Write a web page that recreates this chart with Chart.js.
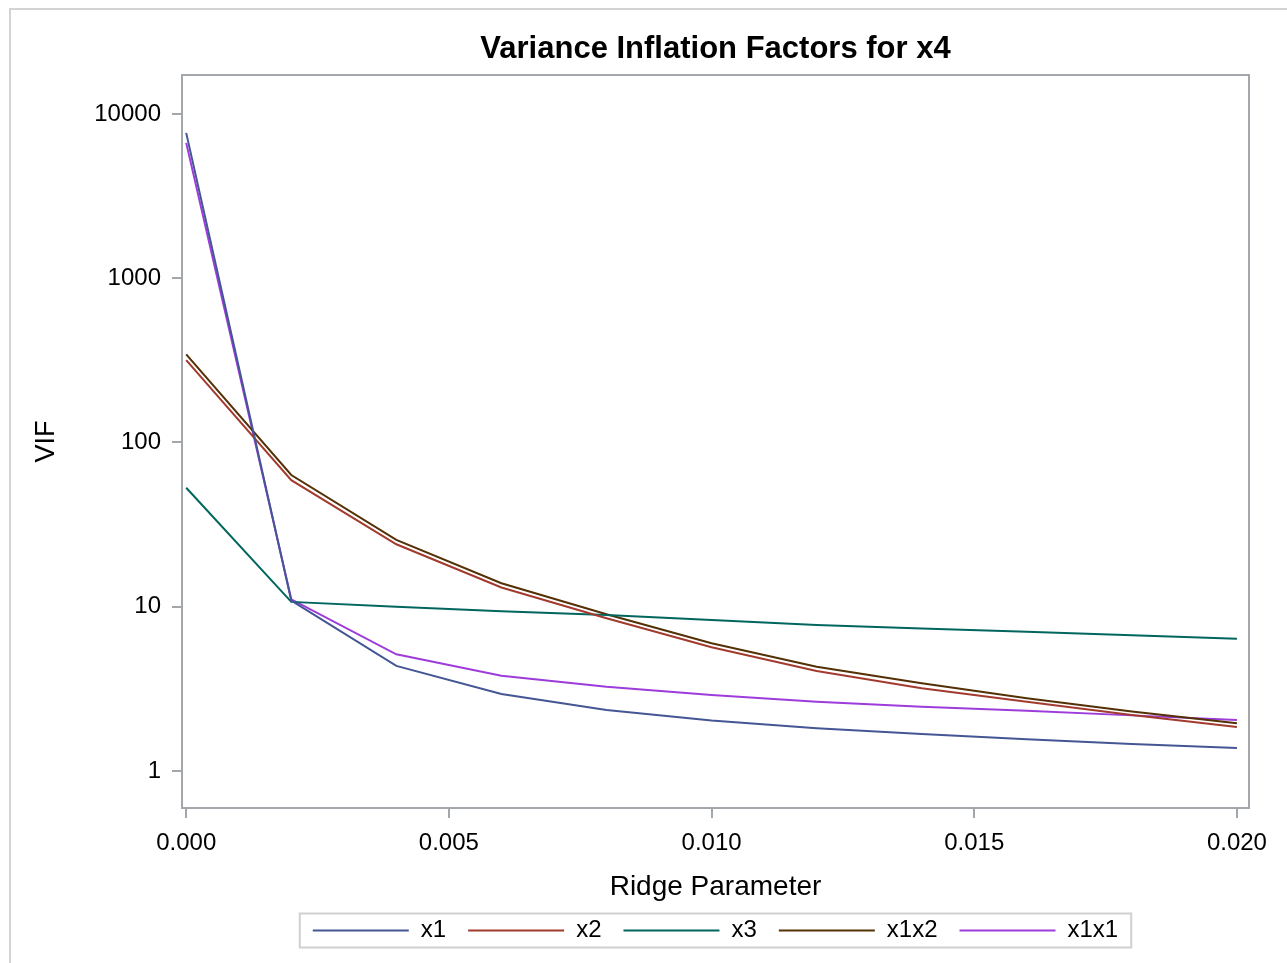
<!DOCTYPE html>
<html>
<head>
<meta charset="utf-8">
<script src="https://cdn.jsdelivr.net/npm/chart.js@4.4.1/dist/chart.umd.min.js"></script>
<style>
  html, body { margin: 0; padding: 0; background: #ffffff; }
  canvas { display: block; }
</style>
</head>
<body>
<canvas id="c" width="1287" height="963"></canvas>
<script>
// ---- data ----
const ridgeValues = [0.000, 0.002, 0.004, 0.006, 0.008, 0.010, 0.012, 0.014, 0.016, 0.018, 0.020];
const seriesNames = ['x1', 'x2', 'x3', 'x1x2', 'x1x1'];
const vifX1   = [7670, 10.9, 4.36, 2.94, 2.35, 2.03, 1.82, 1.68, 1.56, 1.46, 1.38];
const vifX2   = [317, 59.0, 24.0, 13.1, 8.5, 5.66, 4.06, 3.19, 2.64, 2.19, 1.85];
const vifX3   = [53.0, 10.7, 10.0, 9.4, 8.9, 8.3, 7.73, 7.38, 7.05, 6.70, 6.38];
const vifX1X2 = [344, 63.4, 25.5, 13.9, 9.0, 5.99, 4.31, 3.42, 2.77, 2.30, 1.95];
const vifX1X1 = [6670, 11.1, 5.13, 3.80, 3.26, 2.90, 2.64, 2.46, 2.33, 2.18, 2.04];
const xTickValues = [0, 0.005, 0.010, 0.015, 0.020];
const xTickLabels = ['0.000', '0.005', '0.010', '0.015', '0.020'];
const yTickValues = [1, 10, 100, 1000, 10000];
const yTickLabels = ['1', '10', '100', '1000', '10000'];
const titleText = 'Variance Inflation Factors for x4';
const xTitle = 'Ridge Parameter';
const yTitle = 'VIF';

// ---- styles ----
const colors = ['#445694', '#A23A2E', '#01665E', '#543005', '#9D3CDB'];
const allSeries = [vifX1, vifX2, vifX3, vifX1X2, vifX1X1];
const axisGrey = '#a3a7ab';
const FONT = "'Liberation Sans', Arial, sans-serif";

const datasets = allSeries.map((vals, i) => ({
  label: seriesNames[i],
  data: ridgeValues.map((x, j) => ({ x: x, y: vals[j] })),
  borderColor: colors[i],
  backgroundColor: colors[i],
  borderWidth: 2,
  pointRadius: 0,
  tension: 0,
  fill: false
}));

const framePlugin = {
  id: 'frame',
  beforeDraw(chart) {
    const ctx = chart.ctx;
    ctx.save();
    ctx.fillStyle = '#ffffff';
    ctx.fillRect(0, 0, chart.width, chart.height);
    ctx.strokeStyle = '#d3d3d3';
    ctx.lineWidth = 2;
    ctx.beginPath();
    ctx.moveTo(10, chart.height);
    ctx.lineTo(10, 9);
    ctx.lineTo(chart.width, 9);
    ctx.stroke();
    ctx.restore();
  },
  afterDraw(chart) {
    const ctx = chart.ctx;
    const a = chart.chartArea;
    ctx.save();
    ctx.strokeStyle = axisGrey;
    ctx.lineWidth = 2;
    ctx.strokeRect(a.left, a.top, a.right - a.left, a.bottom - a.top);
    const lg = chart.legend;
    if (lg && lg.legendHitBoxes && lg.legendHitBoxes.length) {
      const hb = lg.legendHitBoxes;
      const first = hb[0], last = hb[hb.length - 1];
      const cy = first.top + first.height / 2;
      const l = first.left - 13, r = last.left + last.width + 13;
      ctx.strokeStyle = '#d0d0d0';
      ctx.lineWidth = 2;
      ctx.strokeRect(l, cy - 17, r - l, 34);
    }
    ctx.restore();
  }
};

new Chart(document.getElementById('c'), {
  type: 'line',
  data: { datasets },
  plugins: [framePlugin],
  options: {
    responsive: false,
    devicePixelRatio: 1,
    animation: false,
    layout: { padding: { left: 0, right: 38, top: 0, bottom: 10.5 } },
    plugins: {
      title: {
        display: true,
        text: titleText,
        fullSize: false,
        color: '#000000',
        font: { family: FONT, size: 31, weight: 'bold' },
        padding: { top: 30.4, bottom: 7.4 }
      },
      legend: {
        display: true,
        position: 'bottom',
        fullSize: false,
        labels: {
          color: '#000000',
          font: { family: FONT, size: 24 },
          boxWidth: 96,
          boxHeight: 2,
          padding: 22,
          generateLabels(chart) {
            return Chart.defaults.plugins.legend.labels.generateLabels(chart).map(it => {
              it.lineWidth = 0;
              return it;
            });
          }
        }
      },
      tooltip: { enabled: false }
    },
    scales: {
      x: {
        type: 'linear',
        min: -0.00008,
        max: 0.02023,
        afterBuildTicks(scale) {
          scale.ticks = xTickValues.map(v => ({ value: v }));
        },
        afterFit(scale) { scale.height = 88.5; },
        ticks: {
          color: '#000000',
          font: { family: FONT, size: 24 },
          padding: 11,
          maxRotation: 0,
          autoSkip: false,
          callback(value) {
            const i = xTickValues.findIndex(v => Math.abs(v - value) < 1e-9);
            return i >= 0 ? xTickLabels[i] : '';
          }
        },
        grid: {
          display: true,
          drawOnChartArea: false,
          drawTicks: true,
          tickLength: 10,
          color: axisGrey,
          lineWidth: 2
        },
        border: { display: true, color: axisGrey, width: 2 },
        title: {
          display: true,
          text: xTitle,
          color: '#000000',
          font: { family: FONT, size: 28 },
          padding: { top: 0, bottom: -7.3 }
        }
      },
      y: {
        type: 'logarithmic',
        min: 0.595,
        max: 17270,
        afterBuildTicks(scale) {
          scale.ticks = yTickValues.map(v => ({ value: v }));
        },
        afterFit(scale) { scale.width = 182; },
        ticks: {
          color: '#000000',
          font: { family: FONT, size: 24 },
          padding: 11,
          autoSkip: false,
          callback(value) {
            const i = yTickValues.findIndex(v => Math.abs(v - value) < 1e-6 * v);
            return i >= 0 ? yTickLabels[i] : '';
          }
        },
        grid: {
          display: true,
          drawOnChartArea: false,
          drawTicks: true,
          tickLength: 10,
          color: axisGrey,
          lineWidth: 2
        },
        border: { display: true, color: axisGrey, width: 2 },
        title: {
          display: true,
          text: yTitle,
          color: '#000000',
          font: { family: FONT, size: 27 },
          padding: { top: 30.8, bottom: 0 }
        }
      }
    }
  }
});
</script>
</body>
</html>
